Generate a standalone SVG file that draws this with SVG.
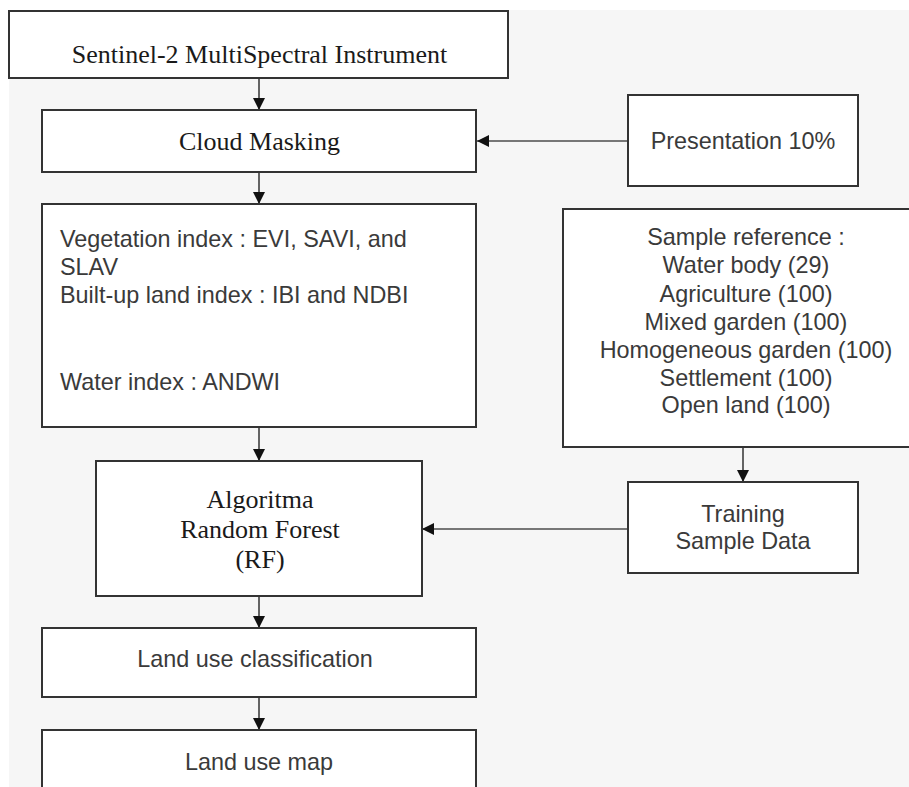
<svg xmlns="http://www.w3.org/2000/svg" width="909" height="787" viewBox="0 0 909 787">
<style>
.box{fill:#ffffff;stroke:#333333;stroke-width:2}
.serif{font-family:"Liberation Serif","Times New Roman",serif;font-size:26px;fill:#1a1a1a}
.sans{font-family:"Liberation Sans",Arial,sans-serif;font-size:23.4px;fill:#3a3a3a}
.v{stroke:#333333;stroke-width:1.5;fill:none}
.h{stroke:#777777;stroke-width:2;fill:none}
</style>
<defs>
<marker id="ah" viewBox="0 0 12 12" refX="12" refY="6" markerWidth="12" markerHeight="12" markerUnits="userSpaceOnUse" orient="auto">
<path d="M0,0 L12,6 L0,12 Z" fill="#111111"/>
</marker>
</defs>
<rect x="0" y="0" width="909" height="787" fill="#ffffff"/>
<rect x="9" y="10" width="900" height="777" fill="#f6f6f6"/>
<g id="connectors">
<line class="v" x1="259" y1="78" x2="259" y2="110" marker-end="url(#ah)"/>
<line class="v" x1="259" y1="172" x2="259" y2="204" marker-end="url(#ah)"/>
<line class="v" x1="259" y1="427" x2="259" y2="461" marker-end="url(#ah)"/>
<line class="v" x1="259" y1="596" x2="259" y2="628" marker-end="url(#ah)"/>
<line class="v" x1="259" y1="697" x2="259" y2="730" marker-end="url(#ah)"/>
<line class="v" x1="743" y1="447" x2="743" y2="482" marker-end="url(#ah)"/>
<line class="h" x1="628" y1="141" x2="477" y2="141" marker-end="url(#ah)"/>
<line class="h" x1="628" y1="529" x2="422" y2="529" marker-end="url(#ah)"/>
</g>
<g id="sentinel">
<rect class="box" x="9" y="11" width="499" height="67"/>
<text class="serif" x="259.5" y="63" text-anchor="middle">Sentinel-2 MultiSpectral Instrument</text>
</g>
<g id="cloud">
<rect class="box" x="42" y="110" width="434" height="62"/>
<text class="serif" x="259.5" y="150" text-anchor="middle">Cloud Masking</text>
</g>
<g id="presentation">
<rect class="box" x="628" y="95" width="230" height="91"/>
<text class="sans" x="743" y="149" text-anchor="middle">Presentation 10%</text>
</g>
<g id="indices">
<rect class="box" x="42" y="204" width="434" height="223"/>
<text class="sans" x="60" y="247">Vegetation index : EVI, SAVI, and</text>
<text class="sans" x="60" y="275">SLAV</text>
<text class="sans" x="60" y="303">Built-up land index : IBI and NDBI</text>
<text class="sans" x="60" y="390">Water index : ANDWI</text>
</g>
<g id="samples">
<rect class="box" x="563" y="209" width="360" height="238"/>
<g class="sans" text-anchor="middle">
<text x="746" y="245">Sample reference :</text>
<text x="746" y="273">Water body (29)</text>
<text x="746" y="302">Agriculture (100)</text>
<text x="746" y="330">Mixed garden (100)</text>
<text x="746" y="358">Homogeneous garden (100)</text>
<text x="746" y="386">Settlement (100)</text>
<text x="746" y="413">Open land (100)</text>
</g>
</g>
<g id="training">
<rect class="box" x="628" y="482" width="230" height="91"/>
<text class="sans" x="743" y="522" text-anchor="middle">Training</text>
<text class="sans" x="743" y="549" text-anchor="middle">Sample Data</text>
</g>
<g id="rf">
<rect class="box" x="96" y="461" width="326" height="135"/>
<text class="serif" x="260" y="508" text-anchor="middle">Algoritma</text>
<text class="serif" x="260" y="538" text-anchor="middle">Random Forest</text>
<text class="serif" x="260" y="568" text-anchor="middle">(RF)</text>
</g>
<g id="classification">
<rect class="box" x="42" y="628" width="434" height="69"/>
<text class="sans" x="255" y="667" text-anchor="middle">Land use classification</text>
</g>
<g id="map">
<rect class="box" x="42" y="730" width="434" height="70"/>
<text class="sans" x="259" y="770" text-anchor="middle">Land use map</text>
</g>
</svg>
